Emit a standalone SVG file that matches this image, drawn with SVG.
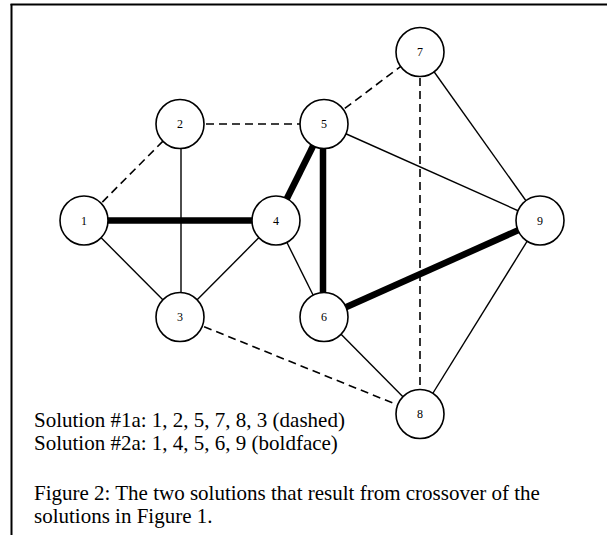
<svg xmlns="http://www.w3.org/2000/svg" width="607" height="535" viewBox="0 0 607 535">
<style>
.node ellipse{fill:#fff;stroke:#000;stroke-width:1.6}
.node text{font-family:"Liberation Serif","Times New Roman",serif;font-size:12px;text-anchor:middle;dominant-baseline:central;fill:#000}
.thin{stroke:#000;stroke-width:1.4;fill:none}
.dash{stroke:#000;stroke-width:1.6;stroke-dasharray:8,5;fill:none}
.bold{stroke:#000;stroke-width:6.5;fill:none}
.cap{font-family:"Liberation Serif","Times New Roman",serif;font-size:21px;fill:#000}
</style>
<rect width="607" height="535" fill="#fff"/>
<g id="frame">
<line x1="10.5" y1="4.5" x2="607" y2="4.5" stroke="#000" stroke-width="2"/>
<line x1="11.5" y1="4" x2="11.5" y2="535" stroke="#000" stroke-width="2"/>
</g>
<g id="connectors">
<line class="dash" x1="84" y1="220.5" x2="180" y2="124"/>
<line class="dash" x1="180" y1="124" x2="324" y2="124"/>
<line class="dash" x1="324" y1="124" x2="420" y2="52"/>
<line class="dash" x1="420" y1="52" x2="420" y2="414"/>
<line class="dash" x1="180" y1="317" x2="420" y2="414"/>
<line class="thin" x1="181" y1="124" x2="181" y2="317"/>
<line class="thin" x1="84" y1="220.5" x2="180" y2="317"/>
<line class="thin" x1="276" y1="220.5" x2="180" y2="317"/>
<line class="thin" x1="276" y1="220.5" x2="324" y2="317"/>
<line class="thin" x1="324" y1="124" x2="540" y2="220.5"/>
<line class="thin" x1="420" y1="52" x2="540" y2="220.5"/>
<line class="thin" x1="540" y1="220.5" x2="420" y2="414"/>
<line class="thin" x1="324" y1="317" x2="420" y2="414"/>
<line class="bold" x1="84" y1="220.5" x2="276" y2="220.5"/>
<line class="bold" x1="276" y1="220.5" x2="324" y2="124"/>
<line class="bold" x1="323" y1="124" x2="323" y2="317"/>
<line class="bold" x1="324" y1="317" x2="540" y2="220.5"/>
</g>
<g id="n1" class="node"><ellipse cx="84" cy="220.5" rx="24" ry="24.5"/><text x="84" y="220.5">1</text></g>
<g id="n2" class="node"><ellipse cx="180" cy="124" rx="24" ry="24.5"/><text x="180" y="124">2</text></g>
<g id="n3" class="node"><ellipse cx="180" cy="317" rx="24" ry="24.5"/><text x="180" y="317">3</text></g>
<g id="n4" class="node"><ellipse cx="276" cy="220.5" rx="24" ry="24.5"/><text x="276" y="220.5">4</text></g>
<g id="n5" class="node"><ellipse cx="324" cy="124" rx="24" ry="24.5"/><text x="324" y="124">5</text></g>
<g id="n6" class="node"><ellipse cx="324" cy="317" rx="24" ry="24.5"/><text x="324" y="317">6</text></g>
<g id="n7" class="node"><ellipse cx="420" cy="52" rx="24" ry="24.5"/><text x="420" y="52">7</text></g>
<g id="n8" class="node"><ellipse cx="420" cy="414" rx="24" ry="24.5"/><text x="420" y="414">8</text></g>
<g id="n9" class="node"><ellipse cx="540" cy="220.5" rx="24" ry="24.5"/><text x="540" y="220.5">9</text></g>
<g id="captions">
<text class="cap" x="34" y="427">Solution #1a: 1, 2, 5, 7, 8, 3 (dashed)</text>
<text class="cap" x="34" y="450">Solution #2a: 1, 4, 5, 6, 9 (boldface)</text>
<text class="cap" x="34" y="500">Figure 2: The two solutions that result from crossover of the</text>
<text class="cap" x="34" y="523">solutions in Figure 1.</text>
</g>
</svg>
